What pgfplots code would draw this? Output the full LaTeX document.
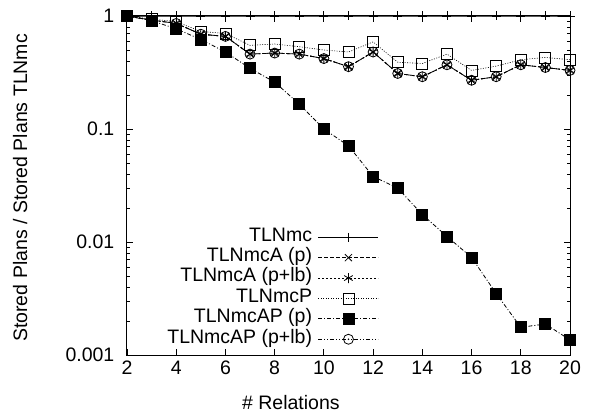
\documentclass[border=0pt]{standalone}
\usepackage{fontspec}
\setmainfont{Liberation Sans}
\usepackage{pgfplots}
\pgfplotsset{compat=1.18}
\pgfdeclareplotmark{odot}{%
  \pgfpathcircle{\pgfpointorigin}{\pgfplotmarksize}\pgfusepathqstroke
  \pgfpathcircle{\pgfpointorigin}{0.9bp}\pgfusepathqfill}
\begin{document}
\fontsize{19.5bp}{22bp}\selectfont
\begin{tikzpicture}
\begin{axis}[
  scale only axis, width=443bp, height=339bp,
  ymode=log, xmin=2, xmax=20, ymin=0.001, ymax=1,
  clip=false,
  xtick={2,4,...,20},
  ytick={0.001,0.01,0.1,1},
  yticklabels={0.001,0.01,0.1,1},
  /pgf/number format/assume math mode=true,
  tick align=inside,
  major tick length=6bp, minor tick length=3.5bp,
  axis line style={line width=1bp},
  every tick/.style={line width=0.8bp, black},
  ticklabel style={font=\fontsize{19.5bp}{22bp}\selectfont},
  xticklabel style={yshift=1bp},
  yticklabel style={xshift=-6bp},
  xlabel={\# Relations},
  ylabel={Stored Plans / Stored Plans TLNmc},
  xlabel style={at={(axis description cs:0.37,-0.16)}, anchor=base, inner sep=0pt},
  ylabel style={at={(axis description cs:-0.241,0.493)}, anchor=center, inner sep=0pt},
  legend cell align=right,
  legend plot pos=right,
  legend style={draw=none, fill=none, at={(axis description cs:0.569,0.378)}, anchor=north east,
    inner sep=0pt, row sep=0pt, column sep=6bp,
    nodes={inner sep=0pt, text height=14bp, text depth=6.4bp},
    font=\fontsize{19.5bp}{22bp}\selectfont},
  legend image code/.code={\draw[mark repeat=2,mark phase=2] plot coordinates {(0bp,0bp)(30bp,0bp)(60bp,0bp)};},
  every axis plot/.append style={black, line width=0.8bp, mark options={solid, line width=0.8bp}},
]
\addplot[mark=+, mark size=4.5bp] coordinates {
(2,1)(3,1)(4,1)(5,1)(6,1)(7,1)(8,1)(9,1)(10,1)(11,1)(12,1)(13,1)(14,1)(15,1)(16,1)(17,1)(18,1)(19,1)(20,1)};
\addlegendentry{TLNmc}
\addplot[mark=x, mark size=5bp, dash pattern=on 4bp off 2bp] coordinates {
(2,1)(3,0.92)(4,0.86)(5,0.69)(6,0.66)(7,0.46)(8,0.47)(9,0.46)(10,0.42)(11,0.356)(12,0.48)(13,0.31)(14,0.29)(15,0.37)(16,0.27)(17,0.29)(18,0.37)(19,0.35)(20,0.33)};
\addlegendentry{TLNmcA (p)}
\addplot[mark=asterisk, mark size=5bp, dash pattern=on 2bp off 2bp] coordinates {
(2,1)(3,0.92)(4,0.86)(5,0.69)(6,0.66)(7,0.46)(8,0.47)(9,0.46)(10,0.42)(11,0.356)(12,0.48)(13,0.31)(14,0.29)(15,0.37)(16,0.27)(17,0.29)(18,0.37)(19,0.35)(20,0.33)};
\addlegendentry{TLNmcA (p+lb)}
\addplot[mark=square, mark size=5.5bp, dash pattern=on 1bp off 1.5bp, line width=0.6bp] coordinates {
(2,1)(3,0.94)(4,0.89)(5,0.73)(6,0.70)(7,0.55)(8,0.565)(9,0.535)(10,0.50)(11,0.48)(12,0.59)(13,0.39)(14,0.38)(15,0.46)(16,0.33)(17,0.36)(18,0.41)(19,0.43)(20,0.41)};
\addlegendentry{TLNmcP}
\addplot[mark=square*, mark size=5.5bp, dash pattern=on 4bp off 2bp on 1bp off 2bp] coordinates {
(2,1)(3,0.91)(4,0.77)(5,0.62)(6,0.48)(7,0.344)(8,0.26)(9,0.166)(10,0.10)(11,0.071)(12,0.038)(13,0.030)(14,0.0175)(15,0.0112)(16,0.0073)(17,0.0035)(18,0.00176)(19,0.00188)(20,0.00136)};
\addlegendentry{TLNmcAP (p)}
\addplot[mark=odot, mark size=5bp, dash pattern=on 4bp off 2bp on 1bp off 2bp on 1bp off 2bp] coordinates {
(2,1)(3,0.92)(4,0.86)(5,0.69)(6,0.66)(7,0.46)(8,0.47)(9,0.46)(10,0.42)(11,0.356)(12,0.48)(13,0.31)(14,0.29)(15,0.37)(16,0.27)(17,0.29)(18,0.37)(19,0.35)(20,0.33)};
\addlegendentry{TLNmcAP (p+lb)}
\end{axis}
\pgfresetboundingbox
\path[use as bounding box] ([xshift=-127bp,yshift=-60bp]current axis.south west) rectangle ([xshift=19bp,yshift=16bp]current axis.north east);
\end{tikzpicture}
\end{document}
